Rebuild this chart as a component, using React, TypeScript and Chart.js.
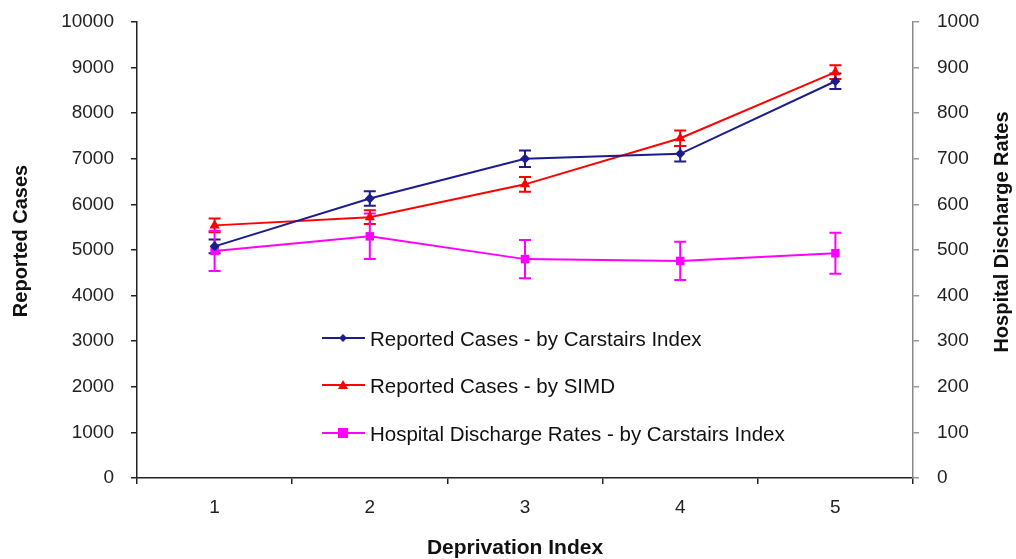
import React, { useEffect, useRef } from 'react';
import { Chart, registerables } from 'chart.js';

Chart.register(...registerables);

const categories = ['1', '2', '3', '4', '5'];
const carstairsCases = [5080, 6130, 7000, 7110, 8700];
const carstairsErr = [150, 160, 180, 170, 170];
const simdCases = [5540, 5720, 6440, 7450, 8900];
const simdErr = [150, 150, 160, 170, 150];
const dischargeRates = [498, 530, 480, 476, 493];
const dischargeErr = [44, 50, 42, 42, 45];

const leftTitle = 'Reported Cases';
const rightTitle = 'Hospital Discharge Rates';
const xTitle = 'Deprivation Index';

const legendLabels = [
  'Reported Cases - by Carstairs Index',
  'Reported Cases - by SIMD',
  'Hospital Discharge Rates - by Carstairs Index',
];

const NAVY = '#1c1c8c';
const RED = '#ff0000';
const MAGENTA = '#ff00ff';
const FONT = '"Liberation Sans", Arial, sans-serif';

function drawMarker(ctx: CanvasRenderingContext2D, style: string, x: number, y: number, r: number, color: string) {
  ctx.save();
  ctx.fillStyle = color;
  ctx.beginPath();
  if (style === 'rectRot') {
    ctx.moveTo(x, y - r);
    ctx.lineTo(x + r, y);
    ctx.lineTo(x, y + r);
    ctx.lineTo(x - r, y);
  } else if (style === 'triangle') {
    ctx.moveTo(x, y - r);
    ctx.lineTo(x + r, y + r * 0.8);
    ctx.lineTo(x - r, y + r * 0.8);
  } else {
    ctx.rect(x - r, y - r, 2 * r, 2 * r);
  }
  ctx.closePath();
  ctx.fill();
  ctx.restore();
}

const errorBarPlugin = {
  id: 'errorBars',
  beforeDatasetsDraw(chart: any) {
    const ctx = chart.ctx;
    chart.data.datasets.forEach((ds: any, i: number) => {
      const meta = chart.getDatasetMeta(i);
      const yScale = chart.scales[meta.yAxisID];
      const errs: number[] = ds.errors || [];
      meta.data.forEach((pt: any, j: number) => {
        const v = ds.data[j];
        const e = errs[j] || 0;
        const yTop = yScale.getPixelForValue(v + e);
        const yBot = yScale.getPixelForValue(v - e);
        ctx.save();
        ctx.strokeStyle = ds.borderColor;
        ctx.lineWidth = 2;
        ctx.beginPath();
        ctx.moveTo(pt.x, yTop);
        ctx.lineTo(pt.x, yBot);
        ctx.moveTo(pt.x - 6, yTop);
        ctx.lineTo(pt.x + 6, yTop);
        ctx.moveTo(pt.x - 6, yBot);
        ctx.lineTo(pt.x + 6, yBot);
        ctx.stroke();
        ctx.restore();
      });
    });
  },
};

const decorPlugin = {
  id: 'decor',
  afterDraw(chart: any) {
    const ctx: CanvasRenderingContext2D = chart.ctx;
    ctx.save();
    ctx.fillStyle = '#111';
    ctx.font = `bold 20px ${FONT}`;
    ctx.textAlign = 'center';
    ctx.textBaseline = 'alphabetic';
    // left title
    ctx.save();
    ctx.translate(27, 241);
    ctx.rotate(-Math.PI / 2);
    ctx.fillText(leftTitle, 0, 0);
    ctx.restore();
    // right title
    ctx.save();
    ctx.translate(1008, 232);
    ctx.rotate(-Math.PI / 2);
    ctx.fillText(rightTitle, 0, 0);
    ctx.restore();
    // x title
    ctx.font = `bold 21px ${FONT}`;
    ctx.fillText(xTitle, 515, 554);

    // legend
    const colors = [NAVY, RED, MAGENTA];
    const styles = ['rectRot', 'triangle', 'rect'];
    const radii = [4, 5, 5];
    const rows = [338, 385, 433];
    ctx.font = `20.5px ${FONT}`;
    ctx.textAlign = 'left';
    ctx.textBaseline = 'middle';
    legendLabels.forEach((label, i) => {
      const y = rows[i];
      ctx.strokeStyle = colors[i];
      ctx.lineWidth = 2;
      ctx.beginPath();
      ctx.moveTo(322, y);
      ctx.lineTo(365, y);
      ctx.stroke();
      drawMarker(ctx, styles[i], 343, y, radii[i], colors[i]);
      ctx.fillStyle = '#111';
      ctx.fillText(label, 370, y + 2);
    });
    ctx.restore();
  },
};

const plainNumber = (v: any) => String(v);

export default function App() {
  const ref = useRef<HTMLCanvasElement | null>(null);
  useEffect(() => {
    if (!ref.current) return;
    const chart = new Chart(ref.current, {
      type: 'line',
      data: {
        labels: categories,
        datasets: [
          {
            label: legendLabels[0],
            data: carstairsCases,
            errors: carstairsErr,
            yAxisID: 'y',
            borderColor: NAVY,
            backgroundColor: NAVY,
            borderWidth: 2,
            pointStyle: 'rectRot',
            pointRadius: 5,
            pointBorderWidth: 0,
            tension: 0,
          } as any,
          {
            label: legendLabels[1],
            data: simdCases,
            errors: simdErr,
            yAxisID: 'y',
            borderColor: RED,
            backgroundColor: RED,
            borderWidth: 2,
            pointStyle: 'triangle',
            pointRadius: 6,
            pointBorderWidth: 0,
            tension: 0,
          } as any,
          {
            label: legendLabels[2],
            data: dischargeRates,
            errors: dischargeErr,
            yAxisID: 'y2',
            borderColor: MAGENTA,
            backgroundColor: MAGENTA,
            borderWidth: 2,
            pointStyle: 'rect',
            pointRadius: 6,
            pointBorderWidth: 0,
            tension: 0,
          } as any,
        ],
      },
      options: {
        animation: false,
        responsive: true,
        maintainAspectRatio: false,
        layout: { padding: { top: 22, left: 0, right: 0, bottom: 0 } },
        plugins: {
          legend: { display: false },
          tooltip: { enabled: false },
        },
        scales: {
          x: {
            type: 'category',
            offset: true,
            grid: {
              display: true,
              offset: true,
              drawOnChartArea: false,
              tickLength: 6,
              color: '#222',
              lineWidth: 1.5,
            },
            border: { display: true, color: '#222', width: 1.5 },
            ticks: {
              color: '#222',
              font: { family: FONT, size: 19 },
              padding: 12,
              maxRotation: 0,
            },
            afterFit(scale: any) {
              scale.height = 81;
              scale.paddingLeft = 0;
              scale.paddingRight = 0;
            },
          },
          y: {
            type: 'linear',
            position: 'left',
            min: 0,
            max: 10000,
            ticks: {
              stepSize: 1000,
              color: '#222',
              font: { family: FONT, size: 19 },
              padding: 17,
              callback: plainNumber,
            },
            grid: {
              display: true,
              drawOnChartArea: false,
              tickLength: 6,
              color: '#222',
              lineWidth: 1.5,
            },
            border: { display: true, color: '#222', width: 1.5 },
            afterFit(scale: any) {
              scale.width = 137;
              scale.paddingTop = 0;
              scale.paddingBottom = 0;
            },
          },
          y2: {
            type: 'linear',
            position: 'right',
            min: 0,
            max: 1000,
            ticks: {
              stepSize: 100,
              color: '#222',
              font: { family: FONT, size: 19 },
              padding: 18,
              callback: plainNumber,
            },
            grid: {
              display: true,
              drawOnChartArea: false,
              tickLength: 6,
              color: '#999',
              lineWidth: 1.5,
            },
            border: { display: true, color: '#888', width: 1.5 },
            afterFit(scale: any) {
              scale.width = 103;
              scale.paddingTop = 0;
              scale.paddingBottom = 0;
            },
          },
        },
      } as any,
      plugins: [errorBarPlugin, decorPlugin],
    });
    return () => chart.destroy();
  }, []);
  return (
    <div style={{ position: 'absolute', left: 0, top: 0, width: 1016, height: 559, background: '#fff' }}>
      <canvas ref={ref} />
    </div>
  );
}
